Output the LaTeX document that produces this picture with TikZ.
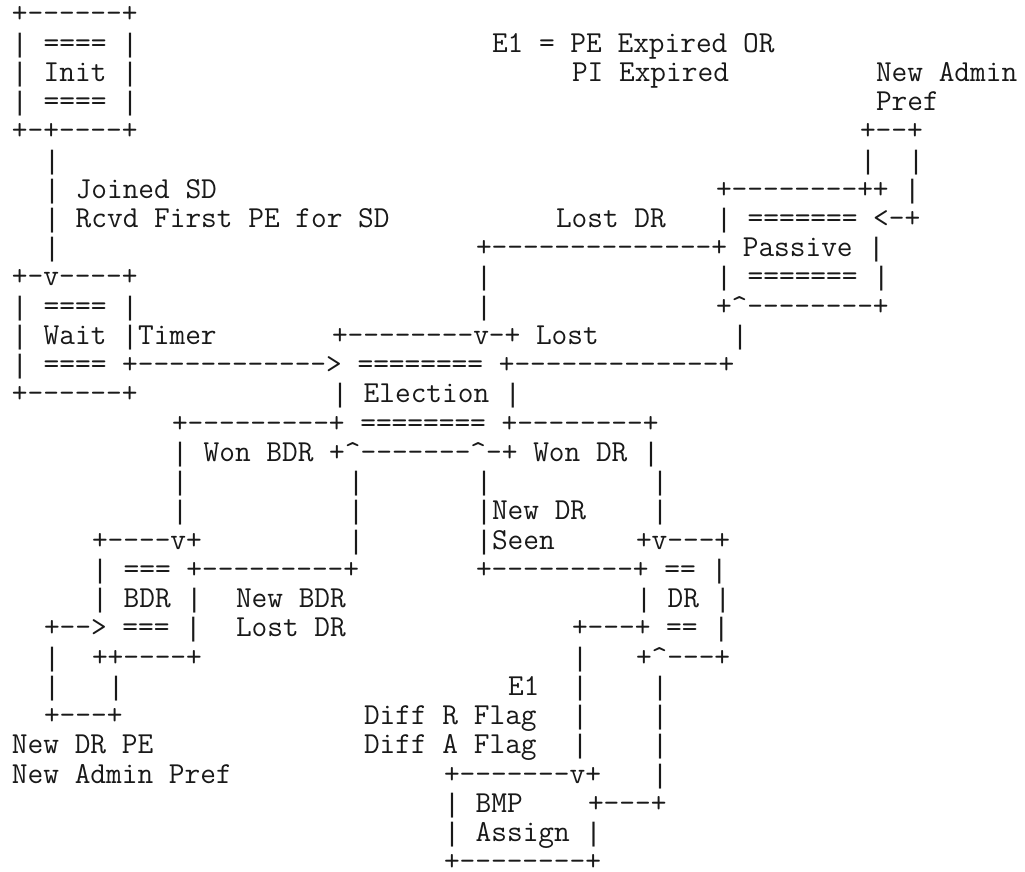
\documentclass[tikz,border=0pt]{standalone}
\usepackage{fontspec}
\newfontfamily\barfont{Liberation Mono}
\newcommand\asc[4]{\node[ascii] (#1) at ({12+16*#2},{-22.8-29.24*#3}) {#4};}
\newcommand\crt{\textasciicircum}
\newcommand\vb{{\barfont\fontsize{26.667}{29.24}\selectfont|}}
\begin{document}
\begin{tikzpicture}[x=1pt,y=1pt,
  ascii/.style={anchor=base west, inner sep=0pt, outer sep=0pt, text depth=0pt,
    font=\ttfamily\fontsize{30.476}{29.24}\selectfont, text=black!90}]
\useasboundingbox[fill=white] (0,0) rectangle (1025,-872);
% row 0
\asc{n0a}{0}{0}{+------+}
% row 1
\asc{n1a}{0}{1}{\vb{} ==== \vb}
\asc{n1b}{30}{1}{E1 = PE Expired OR}
% row 2
\asc{n2a}{0}{2}{\vb{} Init \vb}
\asc{n2b}{35}{2}{PI Expired}
\asc{n2c}{54}{2}{New Admin}
% row 3
\asc{n3a}{0}{3}{\vb{} ==== \vb}
\asc{n3b}{54}{3}{Pref}
% row 4
\asc{n4a}{0}{4}{+-+----+}
\asc{n4b}{53}{4}{+--+}
% row 5
\asc{n5a}{2}{5}{\vb}
\asc{n5b}{53}{5}{\vb}
\asc{n5c}{56}{5}{\vb}
% row 6
\asc{n6a}{2}{6}{\vb{} Joined SD}
\asc{n6b}{44}{6}{+--------++ \vb}
% row 7
\asc{n7a}{2}{7}{\vb{} Rcvd First PE for SD}
\asc{n7b}{34}{7}{Lost DR}
\asc{n7c}{44}{7}{\vb{} ======= <-+}
% row 8
\asc{n8a}{2}{8}{\vb}
\asc{n8b}{29}{8}{+--------------+ Passive \vb}
% row 9
\asc{n9a}{0}{9}{+-v----+}
\asc{n9b}{29}{9}{\vb}
\asc{n9c}{44}{9}{\vb{} ======= \vb}
% row 10
\asc{n10a}{0}{10}{\vb{} ==== \vb}
\asc{n10b}{29}{10}{\vb}
\asc{n10c}{44}{10}{+\crt--------+}
% row 11
\asc{n11a}{0}{11}{\vb{} Wait \vb{}Timer}
\asc{n11b}{20}{11}{+--------v-+ Lost}
\asc{n11c}{45}{11}{\vb}
% row 12
\asc{n12a}{0}{12}{\vb{} ==== +------------> ======== +-------------+}
% row 13
\asc{n13a}{0}{13}{+------+}
\asc{n13b}{20}{13}{\vb{} Election \vb}
% row 14
\asc{n14a}{10}{14}{+---------+ ======== +--------+}
% row 15
\asc{n15a}{10}{15}{\vb{} Won BDR +\crt-------\crt-+ Won DR \vb}
% row 16
\asc{n16a}{10}{16}{\vb}
\asc{n16b}{21}{16}{\vb}
\asc{n16c}{29}{16}{\vb}
\asc{n16d}{40}{16}{\vb}
% row 17
\asc{n17a}{10}{17}{\vb}
\asc{n17b}{21}{17}{\vb}
\asc{n17c}{29}{17}{\vb{}New DR}
\asc{n17d}{40}{17}{\vb}
% row 18
\asc{n18a}{5}{18}{+----v+}
\asc{n18b}{21}{18}{\vb}
\asc{n18c}{29}{18}{\vb{}Seen}
\asc{n18d}{39}{18}{+v---+}
% row 19
\asc{n19a}{5}{19}{\vb{} === +---------+}
\asc{n19b}{29}{19}{+---------+ == \vb}
% row 20
\asc{n20a}{5}{20}{\vb{} BDR \vb}
\asc{n20b}{14}{20}{New BDR}
\asc{n20c}{39}{20}{\vb{} DR \vb}
% row 21
\asc{n21a}{2}{21}{+--> === \vb}
\asc{n21b}{14}{21}{Lost DR}
\asc{n21c}{35}{21}{+---+ == \vb}
% row 22
\asc{n22a}{2}{22}{\vb}
\asc{n22b}{5}{22}{++----+}
\asc{n22c}{35}{22}{\vb}
\asc{n22d}{39}{22}{+\crt---+}
% row 23
\asc{n23a}{2}{23}{\vb}
\asc{n23b}{6}{23}{\vb}
\asc{n23c}{31}{23}{E1}
\asc{n23d}{35}{23}{\vb}
\asc{n23e}{40}{23}{\vb}
% row 24
\asc{n24a}{2}{24}{+---+}
\asc{n24b}{22}{24}{Diff R Flag}
\asc{n24c}{35}{24}{\vb}
\asc{n24d}{40}{24}{\vb}
% row 25
\asc{n25a}{0}{25}{New DR PE}
\asc{n25b}{22}{25}{Diff A Flag}
\asc{n25c}{35}{25}{\vb}
\asc{n25d}{40}{25}{\vb}
% row 26
\asc{n26a}{0}{26}{New Admin Pref}
\asc{n26b}{27}{26}{+-------v+}
\asc{n26c}{40}{26}{\vb}
% row 27
\asc{n27a}{27}{27}{\vb{} BMP}
\asc{n27b}{36}{27}{+---+}
% row 28
\asc{n28a}{27}{28}{\vb{} Assign \vb}
% row 29
\asc{n29a}{27}{29}{+--------+}
\end{tikzpicture}
\end{document}
